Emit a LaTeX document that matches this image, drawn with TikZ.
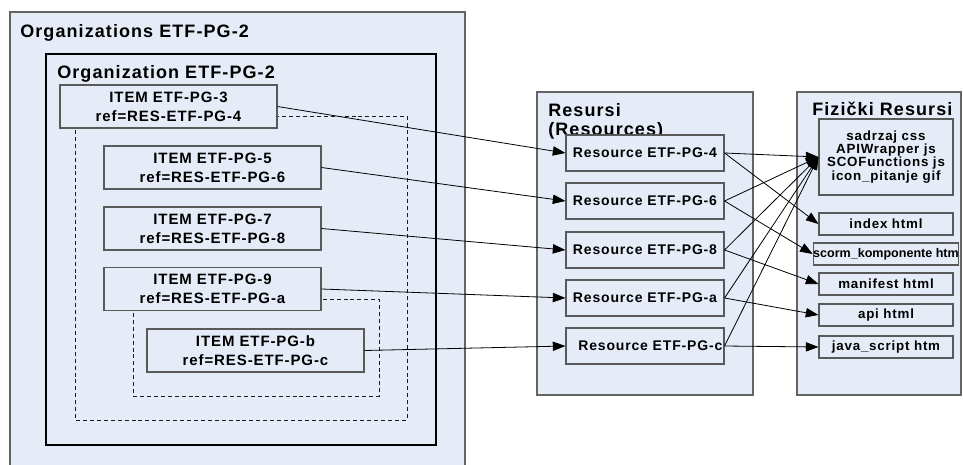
\documentclass[tikz,border=0pt]{standalone}
\usepackage{fontspec}
\setmainfont{Liberation Sans}
\newfontfamily\diafont[LetterSpace=6]{Liberation Sans}
\usetikzlibrary{arrows.meta}

\definecolor{boxfill}{RGB}{230,236,247}
\definecolor{boxline}{RGB}{100,100,100}

\begin{document}
\begin{tikzpicture}[x=0.75pt,y=0.75pt,yscale=-1,xscale=1,
  panel/.style={draw=boxline, fill=boxfill, line width=0.8pt},
  grp/.style={draw=black!90, line width=0.75pt, dash pattern=on 3pt off 2.2pt},
  title/.style={anchor=base west, inner sep=0pt, font=\diafont\bfseries\fontsize{13.5}{15}\selectfont},
  itembox/.style={draw=black!65, fill=boxfill, line width=0.8pt, rectangle, inner sep=0pt, align=center,
    minimum width=162.75pt, minimum height=32.25pt, font=\diafont\bfseries\fontsize{11.25}{14.25}\selectfont},
  resbox/.style={draw=black!65, fill=boxfill, line width=0.8pt, rectangle, inner sep=0pt, align=center,
    minimum width=118.5pt, minimum height=27pt, font=\diafont\bfseries\fontsize{10.5}{12}\selectfont},
  filebox/.style={draw=black!65, fill=boxfill, line width=0.8pt, rectangle, inner sep=0pt, align=center,
    minimum width=100.5pt, minimum height=16.5pt, font=\diafont\bfseries\fontsize{10}{9.8}\selectfont},
  link/.style={-{Triangle[length=9.5pt,width=7pt]}, line width=0.6pt}
]
\useasboundingbox (0,0) rectangle (963,464);
\clip (0,0) rectangle (963,464);

% Organizations
\draw [panel] (10,12) rectangle (465,470);
\node [title] (orgs) at (20,37) {Organizations ETF-PG-2};
\draw [black, line width=1.5pt] (46,54) rectangle (436,445);
\node [title] (org) at (57,78) {Organization ETF-PG-2};

% nested item groups
\draw [grp] (75,116) rectangle (407,420);
\draw [grp] (133,299) rectangle (379,396);

% Items
\node [itembox] (item3) at (168.5,106.5) {ITEM ETF-PG-3\\ref=RES-ETF-PG-4};
\node [itembox] (item5) at (212.5,167.5) {ITEM ETF-PG-5\\ref=RES-ETF-PG-6};
\node [itembox] (item7) at (212.5,228.5) {ITEM ETF-PG-7\\ref=RES-ETF-PG-8};
\node [itembox] (item9) at (212.5,289) {ITEM ETF-PG-9\\ref=RES-ETF-PG-a};
\node [itembox] (itemb) at (255.5,350.5) {ITEM ETF-PG-b\\ref=RES-ETF-PG-c};

% Resursi
\draw [panel] (537,92) rectangle (753,395);
\node [title] (restitle) at (548,116) {Resursi};
\node [title] (restitleb) at (548,135) {(Resources)};
\node [resbox] (res4) at (645,153) {Resource ETF-PG-4};
\node [resbox] (res6) at (645,201) {Resource ETF-PG-6};
\node [resbox] (res8) at (645,250) {Resource ETF-PG-8};
\node [resbox] (resa) at (645,298) {Resource ETF-PG-a};
\node [resbox] (resc) at (645,346) {\hspace*{8pt}Resource ETF-PG-c};

% Fizicki resursi
\draw [panel] (797,92) rectangle (961,395);
\node [title] (fiztitle) at (812,115) {Fizički Resursi};
\node [filebox, minimum height=57pt] (sadrzaj) at (886,157) {sadrzaj css\\APIWrapper js\\SCOFunctions js\\icon\_pitanje gif};
\node [filebox] (index) at (886,224) {index html};
\node [filebox, font=\bfseries\fontsize{9.4}{9.6}\selectfont] (scorm) at (886,254) {scorm\_komponente htm};
\node [filebox] (manifest) at (886,284) {manifest html};
\node [filebox] (api) at (886,315) {api html};
\node [filebox] (java) at (886,347) {java\_script htm};

% items to resources
\draw [link] (item3.east) -- (res4.west);
\draw [link] (item5.east) -- (res6.west);
\draw [link] (item7.east) -- (res8.west);
\draw [link] (item9.east) -- (resa.west);
\draw [link] (itemb.east) -- (resc.west);

% resources to files
\draw [link] (res4.east) -- (sadrzaj.west);
\draw [link] (res4.east) -- (index.west);
\draw [link] (res6.east) -- (sadrzaj.west);
\draw [link] (res6.east) -- (scorm.west);
\draw [link] (res8.east) -- (sadrzaj.west);
\draw [link] (res8.east) -- (manifest.west);
\draw [link] (resa.east) -- (sadrzaj.west);
\draw [link] (resa.east) -- (api.west);
\draw [link] (resc.east) -- (sadrzaj.west);
\draw [link] (resc.east) -- (java.west);

\end{tikzpicture}
\end{document}
